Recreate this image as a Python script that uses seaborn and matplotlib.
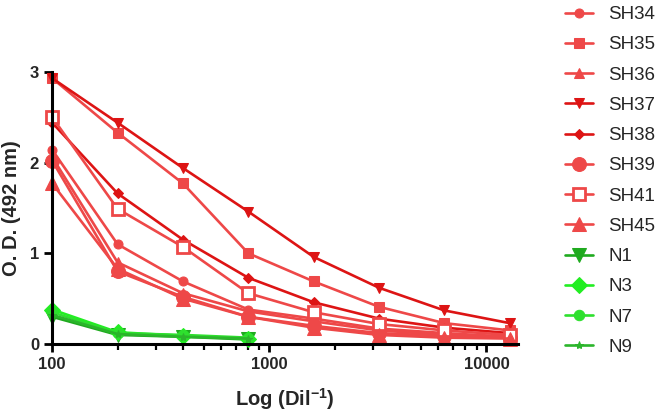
import numpy as np
import pandas as pd
import matplotlib
matplotlib.use("Agg")
import matplotlib.pyplot as plt
import seaborn as sns

# dilutions (x) and O.D. readings per serum
dil = [100, 200, 400, 800, 1600, 3200, 6400, 12800]
dil_neg = [100, 200, 400, 800]

sh34 = [2.14, 1.10, 0.69, 0.38, 0.28, 0.17, 0.12, 0.08]
sh35 = [2.93, 2.33, 1.77, 1.00, 0.69, 0.41, 0.23, 0.15]
sh36 = [2.06, 0.90, 0.56, 0.36, 0.25, 0.15, 0.10, 0.08]
sh37 = [2.93, 2.44, 1.94, 1.46, 0.96, 0.62, 0.37, 0.23]
sh38 = [2.44, 1.66, 1.15, 0.73, 0.46, 0.28, 0.18, 0.12]
sh39 = [2.02, 0.80, 0.52, 0.30, 0.20, 0.12, 0.09, 0.07]
sh41 = [2.50, 1.49, 1.07, 0.56, 0.35, 0.22, 0.15, 0.10]
sh45 = [1.77, 0.83, 0.50, 0.30, 0.18, 0.10, 0.07, 0.06]
n1 = [0.30, 0.10, 0.08, 0.05]
n3 = [0.38, 0.13, 0.09, 0.06]
n7 = [0.35, 0.12, 0.10, 0.07]
n9 = [0.32, 0.11, 0.08, 0.06]

sns.set_theme(style="ticks")
plt.rcParams['font.family'] = ['Liberation Sans', 'DejaVu Sans']
plt.rcParams['mathtext.fontset'] = 'custom'
plt.rcParams['mathtext.rm'] = 'Liberation Sans:bold'
plt.rcParams['mathtext.bf'] = 'Liberation Sans:bold'
plt.rcParams['mathtext.default'] = 'bf'

light = '#EE4848'
dark = '#DD1414'

# name, x, y, color, marker, size, filled
series = [
    ("SH34", dil, sh34, light, 'o', 6.5, True),
    ("SH35", dil, sh35, light, 's', 7, True),
    ("SH36", dil, sh36, light, '^', 7, True),
    ("SH37", dil, sh37, dark, 'v', 7.5, True),
    ("SH38", dil, sh38, dark, 'D', 5, True),
    ("SH39", dil, sh39, light, 'o', 10, True),
    ("SH41", dil, sh41, light, 's', 8.5, False),
    ("SH45", dil, sh45, light, '^', 10, True),
    ("N1", dil_neg, n1, '#1FAA1F', 'v', 10, True),
    ("N3", dil_neg, n3, '#22EE22', 'D', 8.5, True),
    ("N7", dil_neg, n7, '#2EE02E', 'o', 7.5, True),
    ("N9", dil_neg, n9, '#2BB52B', '*', 6, True),
]

fig, ax = plt.subplots(figsize=(6.61, 4.18), dpi=100)
fig.subplots_adjust(left=0.079, right=0.784, bottom=0.177, top=0.828)

for name, xs, ys, col, mk, ms, filled in series:
	kw = dict(markerfacecolor=col) if filled else dict(markerfacecolor='white', markeredgewidth=2)
	sns.lineplot(x=xs, y=ys, ax=ax, color=col, marker=mk, markersize=ms,
		markeredgecolor=col, linewidth=1.9, label=name, clip_on=False, **kw)

ax.set_xscale('log')
ax.set_xlim(100, 14000)
ax.set_ylim(0, 3)
ax.set_yticks([0, 1, 2, 3])
ax.set_xticks([100, 1000, 10000])
ax.set_xticklabels(['100', '1000', '10000'])
for s in ['top', 'right']:
	ax.spines[s].set_visible(False)
for s in ['left', 'bottom']:
	ax.spines[s].set_linewidth(2.2)
	ax.spines[s].set_color('black')
ax.tick_params(axis='both', which='major', width=2, length=6, labelsize=12, color='black')
ax.tick_params(axis='x', which='minor', width=1.6, length=4, color='black')
for lab in ax.get_xticklabels() + ax.get_yticklabels():
	lab.set_fontweight('bold')

ax.set_ylabel('O. D. (492 nm)', fontsize=14.5, fontweight='bold', labelpad=6)
ax.set_xlabel('Log (Dil$^{-1}$)', fontsize=14.5, fontweight='bold', labelpad=10)

ax.legend(loc='upper left', bbox_to_anchor=(0.852, 0.99), bbox_transform=fig.transFigure,
	frameon=False, fontsize=13.5, handlelength=1.5, handletextpad=0.8,
	labelspacing=0.7, borderaxespad=0.0, borderpad=0.1)

fig.savefig('out.png', dpi=100)
